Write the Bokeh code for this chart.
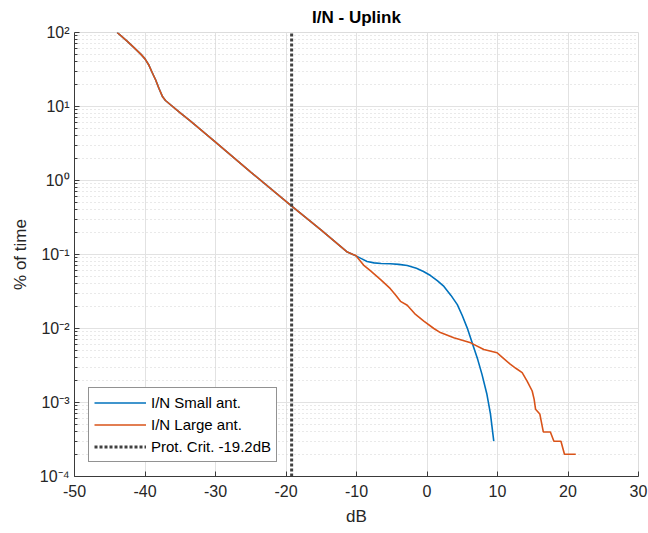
from bokeh.plotting import figure
from bokeh.models import FixedTicker, Range1d
from bokeh.embed import file_html
from bokeh.resources import INLINE

# ---- data ----
common_db = [-43.95, -42.5, -41.6, -40.6, -40.0, -39.5, -39.0, -38.5, -38.0, -37.5, -37.1,
             -35.0, -33.5, -30.0, -25.0, -19.36, -15.0, -11.3, -10.5]
common_pct = [100, 76.0, 63.0, 51.0, 44.0, 37.0, 29.0, 23.0, 17.4, 13.5, 12.05,
              8.2, 6.3, 3.31, 1.3, 0.466, 0.213, 0.108, 0.1]

small_db_tail = [-10.0, -9.3, -8.5, -7.5, -6.5, -5.2, -4.0, -2.8, -1.5, -0.5,
                 0.5, 1.5, 2.4, 3.4, 4.3, 5.0, 5.7, 6.64, 7.2, 7.8, 8.5, 9.0, 9.47]
small_pct_tail = [0.095, 0.088, 0.0805, 0.077, 0.0755, 0.0749, 0.0735, 0.071, 0.065, 0.059,
                  0.052, 0.044, 0.037, 0.028, 0.021, 0.015, 0.0102, 0.0055, 0.0038, 0.0024,
                  0.00129, 0.0007, 0.0003]

large_db_tail = [-10.1, -9.0, -8.0, -6.5, -5.2, -4.4, -3.76, -2.8, -1.63, -0.45, 0.97,
                 1.9, 3.8, 6.2, 8.06, 9.95, 10.4, 11.8, 12.6, 13.5, 14.2, 14.92, 15.2,
                 15.4, 16.0, 16.5, 17.5, 18.0, 19.0, 19.5, 21.1]
large_pct_tail = [0.097, 0.072, 0.06, 0.045, 0.0345, 0.028, 0.0233, 0.0206, 0.0155, 0.0126,
                  0.01, 0.0088, 0.0075, 0.0064, 0.0052, 0.0047, 0.0043, 0.0033, 0.0029,
                  0.00253, 0.00195, 0.00143, 0.0011, 0.00081, 0.0007, 0.0004, 0.0004,
                  0.0003, 0.0003, 0.0002, 0.0002]

prot_crit_db = -19.2

x_ticks = [-50, -40, -30, -20, -10, 0, 10, 20, 30]
x_tick_labels = ["-50", "-40", "-30", "-20", "-10", "0", "10", "20", "30"]
y_ticks = [1e-4, 1e-3, 1e-2, 1e-1, 1e0, 1e1, 1e2]
y_tick_labels = ["10\u207b\u2074", "10\u207b\u00b3", "10\u207b\u00b2", "10\u207b\u00b9",
                 "10\u2070", "10\u00b9", "10\u00b2"]

small_db = [d for d in common_db if d < small_db_tail[0]] + small_db_tail
small_pct = common_pct[:len(small_db) - len(small_db_tail)] + small_pct_tail
large_db = [d for d in common_db if d < large_db_tail[0]] + large_db_tail
large_pct = common_pct[:len(large_db) - len(large_db_tail)] + large_pct_tail

FONT = "Liberation Sans"

p = figure(width=648, height=533,
           x_range=Range1d(x_ticks[0], x_ticks[-1]),
           y_range=Range1d(y_ticks[0], y_ticks[-1]),
           y_axis_type="log", output_backend="svg", toolbar_location=None,
           min_border_left=74, min_border_right=10, min_border_top=30,
           min_border_bottom=57, title="I/N - Uplink")

p.background_fill_color = "white"
p.border_fill_color = "white"
p.outline_line_color = "#dcdcdc"

p.title.align = "center"
p.title.text_font = FONT
p.title.text_font_size = "17px"
p.title.text_font_style = "bold"
p.title.text_color = "#000000"
p.title.standoff = 11

minor = [m * 10.0 ** e for e in range(-4, 2) for m in range(2, 10)]
p.xaxis.ticker = FixedTicker(ticks=x_ticks, minor_ticks=[])
p.yaxis.ticker = FixedTicker(ticks=y_ticks, minor_ticks=minor)
p.xgrid.ticker = p.xaxis[0].ticker
p.ygrid.ticker = p.yaxis[0].ticker
p.xaxis.major_label_overrides = {t: l for t, l in zip(x_ticks, x_tick_labels)}
p.yaxis.major_label_overrides = {t: l for t, l in zip(y_ticks, y_tick_labels)}

p.xgrid.grid_line_color = "#e2e2e2"
p.ygrid.grid_line_color = "#e2e2e2"
p.ygrid.minor_grid_line_color = "#d2d2d2"
p.ygrid.minor_grid_line_dash = "1 3"
p.xgrid.minor_grid_line_color = None

for ax in (p.xaxis, p.yaxis):
    ax.axis_line_color = "#3a3a3a"
    ax.major_tick_line_color = "#3a3a3a"
    ax.minor_tick_line_color = "#3a3a3a"
    ax.major_tick_in = 5
    ax.major_tick_out = 0
    ax.minor_tick_in = 3
    ax.minor_tick_out = 0
    ax.major_label_text_font = FONT
    ax.major_label_text_font_size = "16px"
    ax.major_label_text_color = "#262626"
    ax.axis_label_text_font = FONT
    ax.axis_label_text_font_size = "17px"
    ax.axis_label_text_font_style = "normal"
    ax.axis_label_text_color = "#262626"

p.xaxis.axis_label = "dB"
p.yaxis.axis_label = "% of time"
p.xaxis.major_label_standoff = 8
p.xaxis.axis_label_standoff = 7
p.yaxis.major_label_standoff = 5
p.yaxis.axis_label_standoff = 7

p.line(small_db, small_pct, line_color="#0072BD", line_width=1.6,
       legend_label="I/N Small ant.")
p.line(large_db, large_pct, line_color="#D95319", line_width=1.6,
       legend_label="I/N Large ant.")
p.line([prot_crit_db, prot_crit_db], [y_ticks[0], y_ticks[-1]],
       line_color="#404040", line_width=3, line_dash="3 2",
       legend_label="Prot. Crit. -19.2dB")

lg = p.legend[0]
lg.location = (14, 14)
lg.border_line_color = "#262626"
lg.border_line_width = 1
lg.background_fill_color = "white"
lg.background_fill_alpha = 1
lg.label_text_font = FONT
lg.label_text_font_size = "15px"
lg.label_text_color = "#000000"
lg.glyph_width = 52
lg.glyph_height = 19
lg.label_height = 19
lg.spacing = 3
lg.padding = 5
lg.label_standoff = 5
lg.margin = 0

open("out.html", "w").write(file_html(p, INLINE))
